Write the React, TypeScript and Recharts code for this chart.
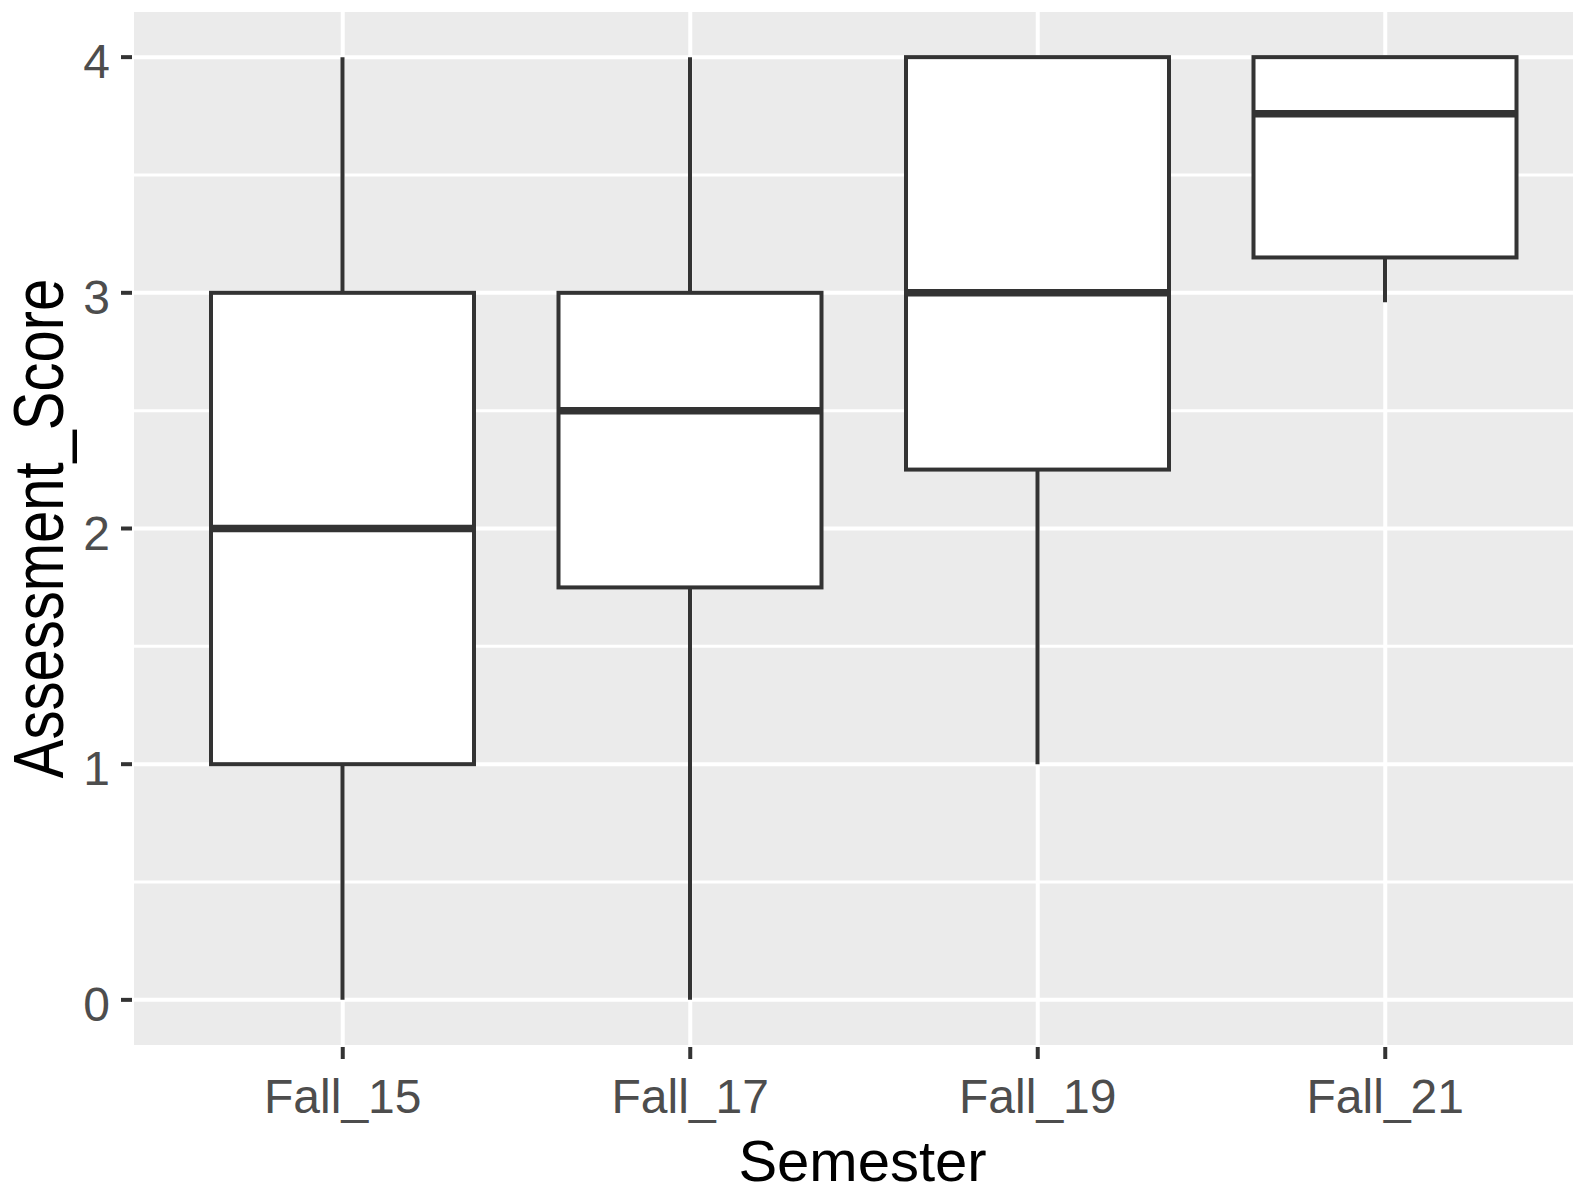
import { ComposedChart, Bar, XAxis, YAxis, CartesianGrid, Label } from 'recharts'

const semesters = ['Fall_15', 'Fall_17', 'Fall_19', 'Fall_21']
const whiskerLow = [0, 0, 1, 2.96]
const quartile1 = [1, 1.75, 2.25, 3.15]
const medians = [2, 2.5, 3, 3.76]
const quartile3 = [3, 3, 4, 4]
const whiskerHigh = [4, 4, 4, 4]
const yTicks = [0, 1, 2, 3, 4]
const yMinorTicks = [0.5, 1.5, 2.5, 3.5]

const data = semesters.map((semester, i) => ({
  semester,
  lo: whiskerLow[i],
  q1: quartile1[i],
  med: medians[i],
  q3: quartile3[i],
  hi: whiskerHigh[i],
}))

const INK = '#333333'
const FONT = '"Liberation Sans", Arial, Helvetica, sans-serif'

// box + whiskers, positions come from the bar Recharts lays out for [lo, hi]
function BoxShape(props: any) {
  const { x, y, width, height, payload } = props
  const top = Math.min(y, y + height)
  const bottom = Math.max(y, y + height)
  const span = payload.hi - payload.lo
  const py = (v: number) => bottom - ((v - payload.lo) / span) * (bottom - top)
  const cx = x + width / 2
  return (
    <g>
      <line x1={cx} x2={cx} y1={py(payload.hi)} y2={py(payload.q3)} stroke={INK} strokeWidth={4} />
      <line x1={cx} x2={cx} y1={py(payload.q1)} y2={py(payload.lo)} stroke={INK} strokeWidth={4} />
      <rect
        x={x}
        y={py(payload.q3)}
        width={width}
        height={py(payload.q1) - py(payload.q3)}
        fill="#ffffff"
        stroke={INK}
        strokeWidth={4}
      />
      <line x1={x} x2={x + width} y1={py(payload.med)} y2={py(payload.med)} stroke={INK} strokeWidth={7.5} />
    </g>
  )
}

function XTitle(props: any) {
  const vb = props.viewBox
  // ggplot panel runs ~18px past the right edge of the image, title centres on the full panel
  const cx = vb.x + (vb.width + 18) / 2
  return (
    <text x={cx} y={vb.y + 134} textAnchor="middle" fill="#000" fontSize={58} fontFamily={FONT}>
      Semester
    </text>
  )
}

function YTitle(props: any) {
  const vb = props.viewBox
  const cy = vb.y + vb.height / 2
  return (
    <text
      transform={`translate(63, ${cy}) scale(1.2, 1) rotate(-90)`}
      textAnchor="middle"
      fill="#000"
      fontSize={58}
      fontFamily={FONT}
    >
      Assessment_Score
    </text>
  )
}

export default function App() {
  return (
    <div style={{ position: 'absolute', left: 0, top: 0, background: '#fff' }}>
      <ComposedChart width={1575} height={1192} data={data} margin={{ top: 10, right: 0, bottom: 0, left: 0 }}>
        <CartesianGrid fill="#EBEBEB" fillOpacity={1} stroke="#ffffff" strokeWidth={4} />
        <CartesianGrid vertical={false} horizontalValues={yMinorTicks} stroke="#ffffff" strokeWidth={3} />
        <XAxis
          dataKey="semester"
          interval={0}
          height={145}
          padding={{ left: 37, right: 16 }}
          axisLine={false}
          tickSize={12}
          tickMargin={20}
          tickLine={{ stroke: INK, strokeWidth: 4 }}
          tick={{ fill: '#4D4D4D', fontSize: 48, fontFamily: FONT }}
        >
          <Label content={(p: any) => <XTitle {...p} />} />
        </XAxis>
        <YAxis
          type="number"
          domain={[-0.2, 4.2]}
          ticks={yTicks}
          allowDataOverflow
          width={132}
          axisLine={false}
          tickSize={11}
          tickMargin={11}
          tickLine={{ stroke: INK, strokeWidth: 4 }}
          tick={{ fill: '#4D4D4D', fontSize: 48, fontFamily: FONT, dy: 4 }}
        >
          <Label content={(p: any) => <YTitle {...p} />} />
        </YAxis>
        <Bar
          dataKey={(d: any) => [d.lo, d.hi]}
          barSize={263}
          shape={BoxShape}
          isAnimationActive={false}
        />
      </ComposedChart>
    </div>
  )
}
